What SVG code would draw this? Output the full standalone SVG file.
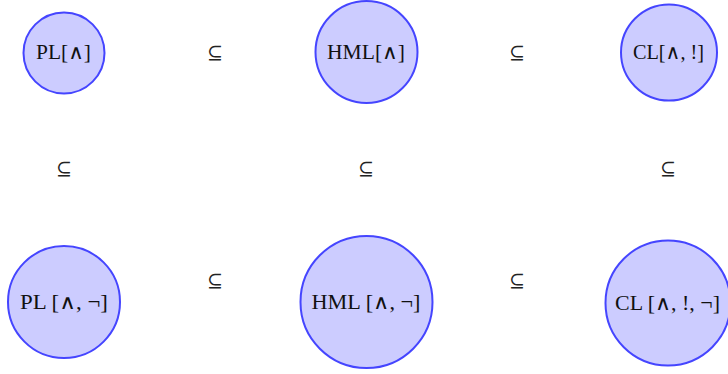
<svg xmlns="http://www.w3.org/2000/svg" width="728" height="374" viewBox="0 0 728 374">
<style>
.node circle{fill:#ccccff;stroke:#4545ff;stroke-width:2}
.node text{font-family:"Liberation Serif","DejaVu Serif",serif;font-size:20px;fill:#111;text-anchor:middle}
.rel{font-family:"DejaVu Serif","DejaVu Sans",serif;font-size:19px;fill:#222;text-anchor:middle}
</style>
<rect width="728" height="374" fill="#fff"/>
<g id="connectors">
<text class="rel" x="215" y="59">⊆</text>
<text class="rel" x="517" y="59">⊆</text>
<text class="rel" x="64" y="175">⊆</text>
<text class="rel" x="366" y="175">⊆</text>
<text class="rel" x="668" y="175">⊆</text>
<text class="rel" x="215" y="287">⊆</text>
<text class="rel" x="517" y="287">⊆</text>
</g>
<g id="pl" class="node"><circle cx="64" cy="53" r="40.5"/><text x="63.5" y="59" textLength="55" lengthAdjust="spacingAndGlyphs">PL[∧]</text></g>
<g id="hml" class="node"><circle cx="366.5" cy="52" r="51"/><text x="366" y="59" textLength="78" lengthAdjust="spacingAndGlyphs">HML[∧]</text></g>
<g id="cl" class="node"><circle cx="669" cy="52.5" r="48"/><text x="668.5" y="59" textLength="71" lengthAdjust="spacingAndGlyphs">CL[∧, !]</text></g>
<g id="pl-neg" class="node"><circle cx="64" cy="302" r="56"/><text x="64" y="309" textLength="88" lengthAdjust="spacingAndGlyphs">PL [∧, ¬]</text></g>
<g id="hml-neg" class="node"><circle cx="366.5" cy="302" r="66"/><text x="366" y="309" textLength="109" lengthAdjust="spacingAndGlyphs">HML [∧, ¬]</text></g>
<g id="cl-neg" class="node"><circle cx="668" cy="303" r="62.5"/><text x="667.5" y="310" textLength="105" lengthAdjust="spacingAndGlyphs">CL [∧, !, ¬]</text></g>
</svg>
